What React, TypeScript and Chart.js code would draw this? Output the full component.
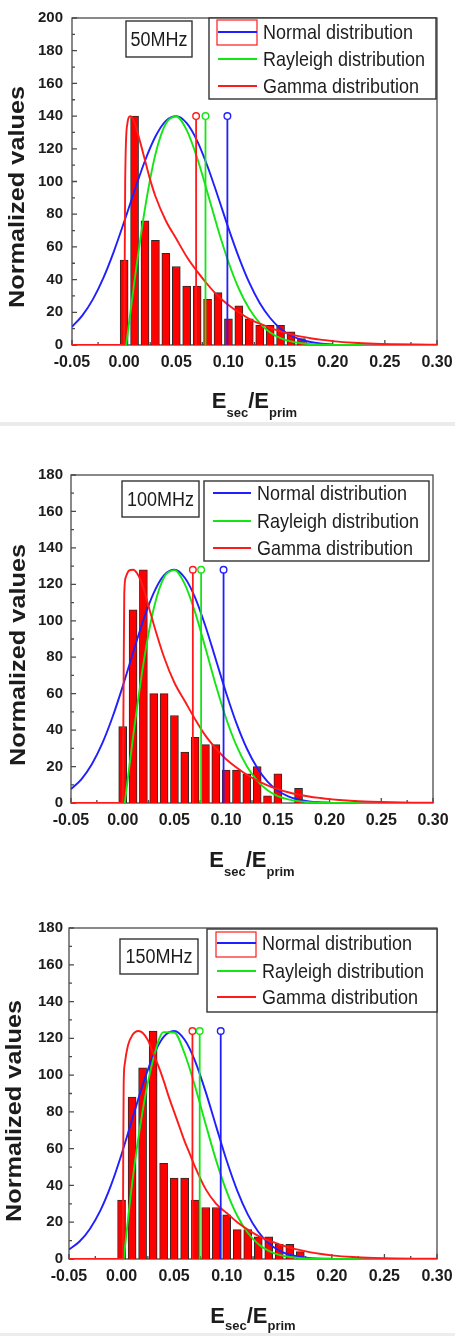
import React, { useEffect, useRef } from "react";
import { Chart, registerables } from "chart.js";

Chart.register(...registerables);

const FONT = "'Liberation Sans', Arial, Helvetica, sans-serif";
const INK = "#1c1c1c";
const FRAME = "#4a4a4a";
const BLUE = "#1f1fff";
const GREEN = "#14e614";
const RED = "#ff1a1a";
const BAR_FILL = "#ff0000";
const BAR_EDGE = "#2a2a2a";

const SERIES_NAMES = ["Normal distribution", "Rayleigh distribution", "Gamma distribution"];
const SERIES_COLORS = [BLUE, GREEN, RED];

// x-axis tick values
const X_MIN = -0.05;
const X_MAX = 0.3;
const X_STEP = 0.05;
const Y_STEP = 20;

// histogram bin centres (bins are 0.01 wide)
const BIN_CENTRES = [0.0, 0.01, 0.02, 0.03, 0.04, 0.05, 0.06, 0.07, 0.08, 0.09, 0.1, 0.11, 0.12, 0.13, 0.14, 0.15, 0.16, 0.17];
const COUNTS_50 = [52, 140, 76, 64, 56, 48, 36, 36, 28, 32, 16, 24, 16, 12, 12, 12, 8, 4];
const COUNTS_100 = [42, 106, 128, 60, 60, 48, 28, 36, 32, 32, 18, 18, 16, 20, 4, 16, 0, 8];
const COUNTS_150 = [32, 88, 104, 124, 52, 44, 44, 32, 28, 28, 24, 16, 16, 12, 12, 8, 8, 4];

// fitted normal curves
const NORMAL_X = [-0.05, -0.04, -0.03, -0.02, -0.01, 0.0, 0.01, 0.02, 0.03, 0.04, 0.05, 0.06, 0.07, 0.08, 0.09, 0.1, 0.11, 0.12, 0.13, 0.14, 0.15, 0.16, 0.17, 0.18, 0.19, 0.2];
const NORMAL_50 = [11.1, 18.1, 27.9, 40.9, 57.0, 75.3, 94.5, 112.7, 127.5, 137.1, 140, 135.7, 124.9, 109.2, 90.7, 71.5, 53.6, 38.1, 25.7, 16.5, 10.0, 5.8, 3.2, 1.7, 0.8, 0.4];
const NORMAL_100 = [7.6, 13.0, 21.1, 32.4, 46.9, 64.0, 82.5, 100.4, 115.3, 125.0, 128, 123.6, 112.7, 97.0, 78.8, 60.4, 43.7, 29.9, 19.3, 11.7, 6.7, 3.7, 1.9, 0.9, 0.4, 0.2];
const NORMAL_150 = [5.2, 9.5, 16.5, 26.6, 40.2, 57.0, 75.8, 94.5, 110.3, 120.8, 124, 119.2, 107.5, 90.9, 72.0, 53.4, 37.2, 24.3, 14.8, 8.5, 4.6, 2.3, 1.1, 0.5, 0.2, 0.1];

// fitted Rayleigh curves
const RAYLEIGH_X = [0.002, 0.01, 0.02, 0.03, 0.04, 0.05, 0.06, 0.07, 0.08, 0.09, 0.1, 0.11, 0.12, 0.13, 0.14, 0.15, 0.16, 0.17, 0.18, 0.19, 0.2, 0.21, 0.22, 0.23];
const RAYLEIGH_50 = [0, 39.6, 83.6, 116.7, 135.5, 139.8, 131.4, 114.4, 93.0, 70.8, 50.8, 34.4, 22.1, 13.4, 7.7, 4.2, 2.2, 1.1, 0.5, 0.2, 0.1, 0, 0, 0];
const RAYLEIGH_100 = [0, 36.2, 76.4, 106.7, 123.9, 127.8, 120.1, 104.6, 85.0, 64.7, 46.4, 31.5, 20.2, 12.3, 7.0, 3.8, 2.0, 1.0, 0.5, 0.2, 0.1, 0, 0, 0];
const RAYLEIGH_150 = [0, 40.9, 80.4, 108.4, 123.4, 123.2, 111.6, 93.7, 73.3, 53.5, 36.6, 23.5, 14.3, 8.2, 4.4, 2.2, 1.1, 0.5, 0.2, 0.1, 0, 0, 0, 0];

// fitted gamma curves
const GAMMA_X_50 = [-0.05, 0.0, 0.001, 0.003, 0.006, 0.01, 0.015, 0.02, 0.025, 0.03, 0.04, 0.05, 0.06, 0.07, 0.08, 0.09, 0.1, 0.11, 0.12, 0.13, 0.14, 0.15, 0.16, 0.17, 0.18, 0.19, 0.2, 0.22, 0.24, 0.26, 0.28, 0.3];
const GAMMA_50 = [0, 0, 100, 135, 140, 136, 125, 113, 101, 91, 76, 65, 54, 45, 37, 30, 24.5, 20, 16, 13, 10.5, 8.3, 6.5, 5.1, 4.0, 3.1, 2.4, 1.4, 0.8, 0.5, 0.3, 0.2];
const GAMMA_X_100 = [-0.05, 0.0, 0.0008, 0.0015, 0.003, 0.006, 0.01, 0.015, 0.02, 0.025, 0.03, 0.04, 0.05, 0.06, 0.07, 0.08, 0.09, 0.1, 0.11, 0.12, 0.13, 0.14, 0.15, 0.16, 0.17, 0.18, 0.19, 0.2, 0.22, 0.24, 0.26, 0.28, 0.3];
const GAMMA_100 = [0, 0, 60, 115, 124, 127.5, 128, 125, 118, 108, 98, 80, 66, 56, 46, 37, 30, 24, 19.5, 15.5, 12.3, 9.7, 7.6, 5.9, 4.6, 3.6, 2.8, 2.1, 1.2, 0.7, 0.4, 0.2, 0.1];
const GAMMA_X_150 = [-0.05, 0.0, 0.0012, 0.0016, 0.002, 0.003, 0.006, 0.01, 0.016, 0.02, 0.025, 0.03, 0.035, 0.04, 0.045, 0.05, 0.055, 0.06, 0.065, 0.07, 0.08, 0.09, 0.1, 0.11, 0.12, 0.13, 0.14, 0.15, 0.16, 0.17, 0.18, 0.19, 0.2, 0.22, 0.24, 0.26, 0.28, 0.3];
const GAMMA_150 = [0, 0, 0, 60, 95, 106, 116, 121.5, 124, 123, 119, 112, 105, 97, 88, 80, 72, 64, 57, 50, 38, 30, 25, 20, 16, 12.6, 10, 8, 6.2, 4.8, 3.6, 2.7, 2, 1.1, 0.6, 0.3, 0.15, 0.1];

// marker stems (normal, Rayleigh, gamma) and their common height
const STEMS_50 = [0.099, 0.078, 0.069];
const STEMS_100 = [0.0975, 0.0758, 0.0678];
const STEMS_150 = [0.0943, 0.0743, 0.0674];
const PEAK_50 = 140;
const PEAK_100 = 128;
const PEAK_150 = 124;

const X_AXIS_H = 40;
const WIDTH = 463;
const TEXT_STRETCH = 1.12; // lettering is drawn slightly taller than wide

type Box = { x: number; y: number; w: number; h: number };
type PanelSpec = {
  label: string;
  top: number;
  height: number;
  area: { left: number; right: number; top: number; bottom: number };
  yMax: number;
  yPad: number;
  counts: number[];
  normal: number[];
  rayleigh: number[];
  gammaX: number[];
  gamma: number[];
  stems: number[];
  peak: number;
  legend: Box & { rows: number[]; lineX0: number; lineX1: number; textX: number };
  tag: Box;
  histKey: Box | null;
  yTitle: { x: number; y: number };
  xTitleBaseline: number;
  subDrop: number;
};

const PANELS: PanelSpec[] = [
  {
    label: "50MHz",
    top: 0,
    height: 424,
    area: { left: 72, right: 437, top: 15, bottom: 345 },
    yMax: 200,
    yPad: 9,
    counts: COUNTS_50,
    normal: NORMAL_50,
    rayleigh: RAYLEIGH_50,
    gammaX: GAMMA_X_50,
    gamma: GAMMA_50,
    stems: STEMS_50,
    peak: PEAK_50,
    legend: { x: 209, y: 18, w: 227, h: 81, rows: [32, 59, 86], lineX0: 218, lineX1: 257, textX: 263 },
    tag: { x: 126, y: 21, w: 66, h: 36 },
    histKey: { x: 217, y: 20, w: 40, h: 25 },
    yTitle: { x: 18, y: 197 },
    xTitleBaseline: 408,
    subDrop: 9,
  },
  {
    label: "100MHz",
    top: 430,
    height: 460,
    area: { left: 71, right: 433, top: 45, bottom: 373 },
    yMax: 180,
    yPad: 8,
    counts: COUNTS_100,
    normal: NORMAL_100,
    rayleigh: RAYLEIGH_100,
    gammaX: GAMMA_X_100,
    gamma: GAMMA_100,
    stems: STEMS_100,
    peak: PEAK_100,
    legend: { x: 204, y: 51, w: 225, h: 80, rows: [63, 91, 118], lineX0: 213, lineX1: 251, textX: 257 },
    tag: { x: 122, y: 51, w: 77, h: 36 },
    histKey: null,
    yTitle: { x: 19, y: 225 },
    xTitleBaseline: 437,
    subDrop: 9,
  },
  {
    label: "150MHz",
    top: 890,
    height: 446,
    area: { left: 69, right: 437, top: 38, bottom: 369 },
    yMax: 180,
    yPad: 6,
    counts: COUNTS_150,
    normal: NORMAL_150,
    rayleigh: RAYLEIGH_150,
    gammaX: GAMMA_X_150,
    gamma: GAMMA_150,
    stems: STEMS_150,
    peak: PEAK_150,
    legend: { x: 207, y: 39, w: 230, h: 83, rows: [53, 81, 107], lineX0: 217, lineX1: 256, textX: 262 },
    tag: { x: 120, y: 49, w: 78, h: 35 },
    histKey: { x: 216, y: 42, w: 40, h: 25 },
    yTitle: { x: 15, y: 221 },
    xTitleBaseline: 433,
    subDrop: 7,
  },
];

function curve(xs: number[], ys: number[], color: string, order: number) {
  return {
    type: "line" as const,
    data: xs.map((x, i) => ({ x, y: ys[i] })),
    borderColor: color,
    borderWidth: 1.9,
    pointRadius: 0,
    fill: false,
    cubicInterpolationMode: "monotone" as const,
    order,
  };
}

function stem(x: number, peak: number, color: string) {
  return {
    type: "line" as const,
    data: [
      { x, y: 0 },
      { x, y: peak },
    ],
    borderColor: color,
    borderWidth: 1.8,
    pointRadius: [0, 3.3],
    pointBackgroundColor: "#ffffff",
    pointBorderColor: color,
    pointBorderWidth: 1.4,
    tension: 0,
    order: 1,
  };
}

// text drawn with a vertical stretch about its middle line
function tallText(ctx: CanvasRenderingContext2D, text: string, x: number, yMid: number) {
  ctx.save();
  ctx.translate(x, yMid);
  ctx.scale(1, TEXT_STRETCH);
  ctx.fillText(text, 0, 0);
  ctx.restore();
}

// frame, inward ticks, legend, tag box and axis titles
function decorations(p: PanelSpec) {
  return {
    id: "decor-" + p.label,
    beforeDatasetsDraw(chart: any) {
      const { ctx, chartArea: a, scales } = chart;
      ctx.save();
      ctx.strokeStyle = FRAME;
      ctx.lineWidth = 1.3;
      ctx.strokeRect(a.left, a.top, a.right - a.left, a.bottom - a.top);
      ctx.beginPath();
      const xs = scales.x;
      const nx = Math.round((X_MAX - X_MIN) / (X_STEP / 2));
      for (let i = 0; i <= nx; i++) {
        const px = xs.getPixelForValue(X_MIN + (i * X_STEP) / 2);
        const len = i % 2 === 0 ? 5 : 3;
        ctx.moveTo(px, a.bottom);
        ctx.lineTo(px, a.bottom - len);
      }
      const ys = scales.y;
      const ny = Math.round(p.yMax / (Y_STEP / 2));
      for (let i = 0; i <= ny; i++) {
        const py = ys.getPixelForValue((i * Y_STEP) / 2);
        const len = i % 2 === 0 ? 5 : 3;
        ctx.moveTo(a.left, py);
        ctx.lineTo(a.left + len, py);
      }
      ctx.stroke();
      ctx.restore();
    },
    afterDraw(chart: any) {
      const { ctx, chartArea: a } = chart;
      ctx.save();
      // legend
      const L = p.legend;
      ctx.fillStyle = "#ffffff";
      ctx.fillRect(L.x, L.y, L.w, L.h);
      ctx.strokeStyle = "#333333";
      ctx.lineWidth = 1.4;
      ctx.strokeRect(L.x, L.y, L.w, L.h);
      if (p.histKey) {
        ctx.strokeStyle = RED;
        ctx.lineWidth = 1.2;
        ctx.strokeRect(p.histKey.x, p.histKey.y, p.histKey.w, p.histKey.h);
      }
      ctx.font = `18px ${FONT}`;
      ctx.textBaseline = "middle";
      ctx.textAlign = "left";
      SERIES_NAMES.forEach((name, i) => {
        const y = L.rows[i];
        ctx.strokeStyle = SERIES_COLORS[i];
        ctx.lineWidth = 2;
        ctx.beginPath();
        ctx.moveTo(L.lineX0, y);
        ctx.lineTo(L.lineX1, y);
        ctx.stroke();
        ctx.fillStyle = INK;
        tallText(ctx, name, L.textX, y + 1);
      });
      // frequency tag
      const T = p.tag;
      ctx.fillStyle = "#ffffff";
      ctx.fillRect(T.x, T.y, T.w, T.h);
      ctx.strokeStyle = "#333333";
      ctx.lineWidth = 1.4;
      ctx.strokeRect(T.x, T.y, T.w, T.h);
      ctx.fillStyle = INK;
      ctx.textAlign = "center";
      tallText(ctx, p.label, T.x + T.w / 2, T.y + T.h / 2 + 1);

      // y title
      ctx.save();
      ctx.translate(p.yTitle.x, p.yTitle.y);
      ctx.rotate(-Math.PI / 2);
      ctx.scale(1.15, 1);
      ctx.font = `bold 22px ${FONT}`;
      ctx.textAlign = "center";
      ctx.textBaseline = "middle";
      ctx.fillStyle = INK;
      ctx.fillText("Normalized values", 0, 0);
      ctx.restore();

      // x title: E_sec / E_prim
      const big = `bold 22px ${FONT}`;
      const small = `bold 13px ${FONT}`;
      ctx.font = big;
      const wE = ctx.measureText("E").width;
      const wSE = ctx.measureText("/E").width;
      ctx.font = small;
      const wSec = ctx.measureText("sec").width;
      const wPrim = ctx.measureText("prim").width;
      const total = wE + wSec + wSE + wPrim;
      let x = (a.left + a.right) / 2 - total / 2;
      const b = p.xTitleBaseline;
      const d = p.subDrop;
      ctx.textAlign = "left";
      ctx.textBaseline = "alphabetic";
      ctx.fillStyle = INK;
      ctx.font = big;
      ctx.fillText("E", x, b);
      x += wE;
      ctx.font = small;
      ctx.fillText("sec", x, b + d);
      x += wSec;
      ctx.font = big;
      ctx.fillText("/E", x, b);
      x += wSE;
      ctx.font = small;
      ctx.fillText("prim", x, b + d);
      ctx.restore();
    },
  };
}

function buildConfig(p: PanelSpec): any {
  const bars = {
    type: "bar" as const,
    data: BIN_CENTRES.map((x, i) => ({ x, y: p.counts[i] > 0 ? p.counts[i] : null })),
    backgroundColor: BAR_FILL,
    borderColor: BAR_EDGE,
    borderWidth: 1,
    barThickness: 8,
    order: 10,
  };
  return {
    type: "bar",
    data: {
      datasets: [
        bars,
        curve(NORMAL_X, p.normal, BLUE, 5),
        curve(RAYLEIGH_X, p.rayleigh, GREEN, 4),
        curve(p.gammaX, p.gamma, RED, 3),
        stem(p.stems[0], p.peak, BLUE),
        stem(p.stems[1], p.peak, GREEN),
        stem(p.stems[2], p.peak, RED),
      ],
    },
    options: {
      responsive: false,
      animation: false,
      events: [],
      layout: {
        padding: {
          left: 0,
          top: p.area.top,
          right: WIDTH - p.area.right,
          bottom: p.height - p.area.bottom - X_AXIS_H,
        },
      },
      plugins: { legend: { display: false }, tooltip: { enabled: false } },
      scales: {
        x: {
          type: "linear",
          min: X_MIN,
          max: X_MAX,
          offset: false,
          grid: { display: false, drawTicks: false },
          border: { display: false },
          ticks: {
            stepSize: X_STEP,
            autoSkip: false,
            maxRotation: 0,
            padding: 8,
            color: INK,
            font: { family: FONT, size: 16, weight: "bold" },
            callback: (v: any) => (Math.abs(Number(v)) < 1e-9 ? "0.00" : Number(v).toFixed(2)),
          },
          afterFit: (s: any) => {
            s.height = X_AXIS_H;
          },
        },
        y: {
          type: "linear",
          min: 0,
          max: p.yMax,
          grid: { display: false, drawTicks: false },
          border: { display: false },
          ticks: {
            stepSize: Y_STEP,
            padding: p.yPad,
            color: INK,
            font: { family: FONT, size: 15, weight: "bold" },
          },
          afterFit: (s: any) => {
            s.width = p.area.left;
          },
        },
      },
    },
    plugins: [decorations(p)],
  };
}

function Panel({ spec }: { spec: PanelSpec }) {
  const ref = useRef<HTMLCanvasElement>(null);
  useEffect(() => {
    const chart = new Chart(ref.current as HTMLCanvasElement, buildConfig(spec));
    return () => chart.destroy();
  }, [spec]);
  return (
    <canvas
      ref={ref}
      width={WIDTH}
      height={spec.height}
      style={{ position: "absolute", left: 0, top: spec.top, display: "block" }}
    />
  );
}

export default function App() {
  return (
    <div
      style={{
        position: "absolute",
        left: 0,
        top: 0,
        width: WIDTH,
        height: 1336,
        background: "#ffffff",
        overflow: "hidden",
      }}
    >
      {PANELS.map((p) => (
        <Panel key={p.label} spec={p} />
      ))}
      <div style={{ position: "absolute", left: 0, top: 422, width: 455, height: 4, background: "#ebebeb" }} />
      <div style={{ position: "absolute", left: 0, top: 1333, width: 455, height: 3, background: "#ededed" }} />
    </div>
  );
}
